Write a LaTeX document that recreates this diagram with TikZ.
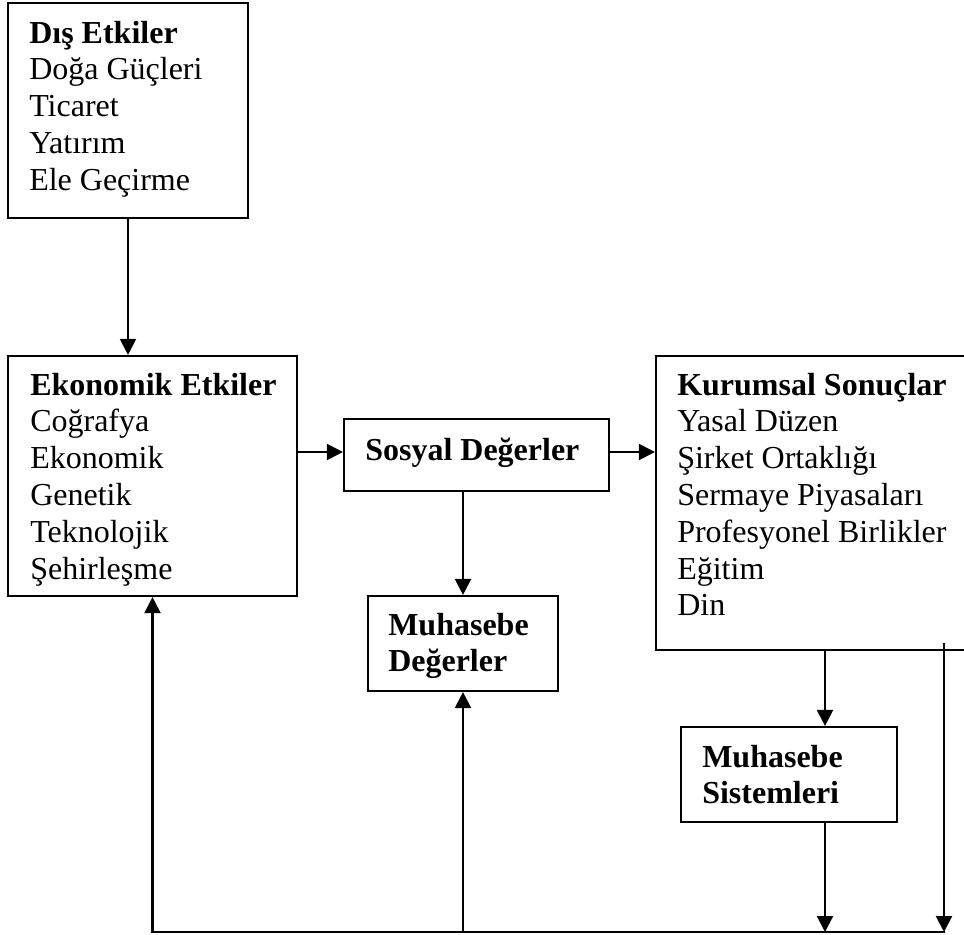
\documentclass[tikz,border=0pt]{standalone}
\usepackage{fontspec}
\setmainfont{Liberation Serif}
\usetikzlibrary{arrows.meta}
\tikzset{
  box/.style={draw, line width=1.6pt, inner sep=0pt, anchor=center},
  txt/.style={anchor=base west, inner sep=0pt, font=\fontsize{24pt}{27.6pt}\selectfont},
  conn/.style={line width=1.6pt},
  arr/.style={conn, -{Triangle[length=12pt,width=12pt]}}
}
\newcommand{\lst}[1]{\begin{tabular}[t]{@{}l@{}}#1\end{tabular}}
\begin{document}
\begin{tikzpicture}[x=0.75pt,y=-0.75pt]
\useasboundingbox (0,0) rectangle (964,935);
\clip (0,0) rectangle (964,935);
% boxes
\node[box, minimum width=240*0.75pt, minimum height=215*0.75pt] (dis) at (128,110.5) {};
\node[box, minimum width=289*0.75pt, minimum height=240*0.75pt] (eko) at (152.5,476) {};
\node[box, minimum width=265*0.75pt, minimum height=72*0.75pt] (sos) at (476.5,455) {};
\node[box, minimum width=190*0.75pt, minimum height=95*0.75pt] (md) at (463,643.5) {};
\node[box, minimum width=338*0.75pt, minimum height=294*0.75pt] (kur) at (825,503) {};
\node[box, minimum width=216*0.75pt, minimum height=95*0.75pt] (ms) at (789,774.5) {};
% texts
\node[txt] (dist) at (29,43) {\lst{\bfseries Dış Etkiler\\Doğa Güçleri\\Ticaret\\Yatırım\\Ele Geçirme}};
\node[txt] (ekot) at (30,395) {\lst{\bfseries Ekonomik Etkiler\\Coğrafya\\Ekonomik\\Genetik\\Teknolojik\\Şehirleşme}};
\node[txt] (sost) at (365,460) {\bfseries Sosyal Değerler};
\node[txt] (mdt) at (388,635) {\lst{\bfseries Muhasebe\\\bfseries Değerler}};
\node[txt] (kurt) at (677,395) {\lst{\bfseries Kurumsal Sonuçlar\\Yasal Düzen\\Şirket Ortaklığı\\Sermaye Piyasaları\\Profesyonel Birlikler\\Eğitim\\Din}};
\node[txt] (mst) at (702,767) {\lst{\bfseries Muhasebe\\\bfseries Sistemleri}};
% coordinates
\coordinate (bl) at (152.5,932);
\coordinate (br) at (945,932);
\coordinate (rt) at (944,643);
% connectors
\draw[arr] (dis.south) -- (dis.south |- eko.north);
\draw[arr] (eko.east |- 0,452) -- (sos.west |- 0,452);
\draw[arr] (sos.east |- 0,452) -- (kur.west |- 0,452);
\draw[arr] (md.north |- sos.south) -- (md.north);
\draw[arr] (kur.south) -- (kur.south |- ms.north);
\draw[arr] (ms.south -| kur.south) -- (kur.south |- bl);
\draw[arr] (rt) -- (rt |- bl);
\draw[arr] (br) -- (bl) -- (eko.south);
\draw[arr] (md.south |- bl) -- (md.south);
\end{tikzpicture}
\end{document}
